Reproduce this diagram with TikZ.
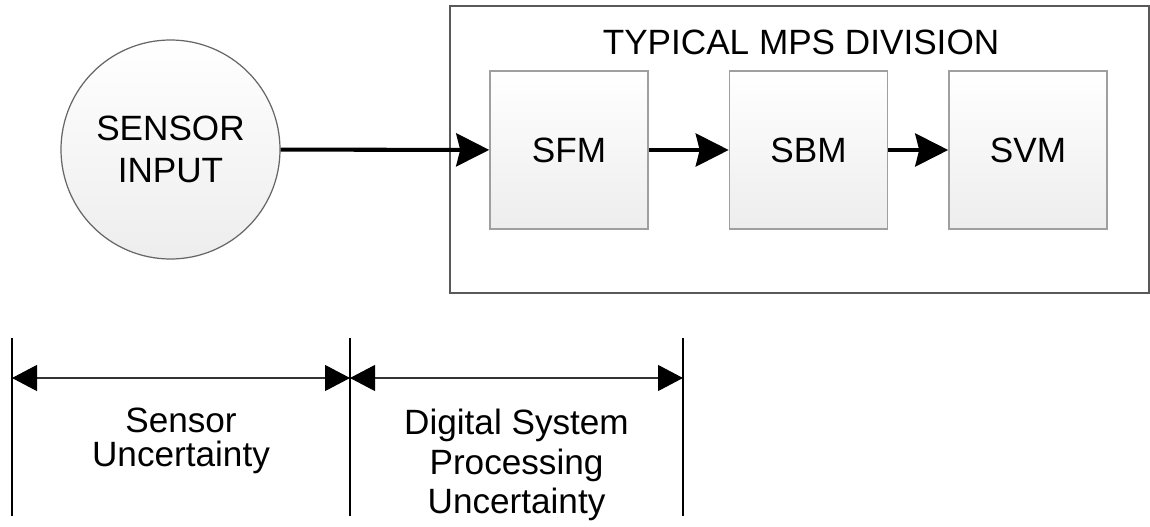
\documentclass[tikz,border=0pt]{standalone}
\usepackage{fontspec}
\setmainfont{Liberation Sans}
\usetikzlibrary{arrows.meta}

\begin{document}
\begin{tikzpicture}

\tikzset{block/.style = {shape=rectangle,draw=gray!75,line width=0.9pt,top color=white,bottom color=gray!14,minimum width=3.16cm,minimum height=3.16cm,font=\fontsize{20}{24}\selectfont}}
\tikzset{flow/.style = {line width=2.3pt,-{Stealth[length=0.66cm,width=0.66cm,inset=0.08cm]}}}
\tikzset{dim/.style = {line width=0.6pt,draw=black!80,{Triangle[length=0.5cm,width=0.52cm,fill=black,color=black]}-{Triangle[length=0.5cm,width=0.52cm,fill=black,color=black]}}}
\tikzset{marker/.style = {line width=0.6pt}}
\useasboundingbox (0,0) rectangle (23,-10.54);
%input and division
\node[shape=circle,draw=black!60,line width=0.7pt,top color=white,bottom color=gray!14,minimum size=4.38cm,align=center,font=\fontsize{20}{24}\selectfont] (sensor) at (3.41,-2.99) {SENSOR\\INPUT};
\node[shape=rectangle,draw=black!65,line width=0.9pt,minimum width=13.98cm,minimum height=5.74cm] (mps) at (15.99,-2.99) {};
\node[font=\fontsize{20}{24}\selectfont] (title) at (16.02,-0.85) {TYPICAL MPS DIVISION};
\node[block] (sfm) at (11.38,-3.0) {SFM};
\node[block] (sbm) at (16.17,-3.0) {SBM};
\node[block] (svm) at (20.56,-3.0) {SVM};
\draw [flow] (sensor) -- (sfm);
\draw [flow] (sfm) -- (sbm);
\draw [flow] (sbm) -- (svm);
%uncertainty ranges
\coordinate (t1) at (0.24,-6.76);
\coordinate (b1) at (0.24,-10.32);
\coordinate (t2) at (7.0,-6.76);
\coordinate (b2) at (7.0,-10.32);
\coordinate (t3) at (13.66,-6.76);
\coordinate (b3) at (13.66,-10.32);
\coordinate (m1) at (0.24,-7.56);
\coordinate (m2) at (7.0,-7.56);
\coordinate (m3) at (13.66,-7.56);
\draw [marker] (t1) -- (b1);
\draw [marker] (t2) -- (b2);
\draw [marker] (t3) -- (b3);
\draw [dim] (m1) -- (m2);
\draw [dim] (m2) -- (m3);
\node[align=center,font=\fontsize{20}{19}\selectfont] (sensorunc) at (3.62,-8.82) {Sensor\\Uncertainty};
\node[align=center,font=\fontsize{20}{22.5}\selectfont] (digitalunc) at (10.33,-9.3) {Digital System\\Processing\\Uncertainty};

\end{tikzpicture}
\end{document}
